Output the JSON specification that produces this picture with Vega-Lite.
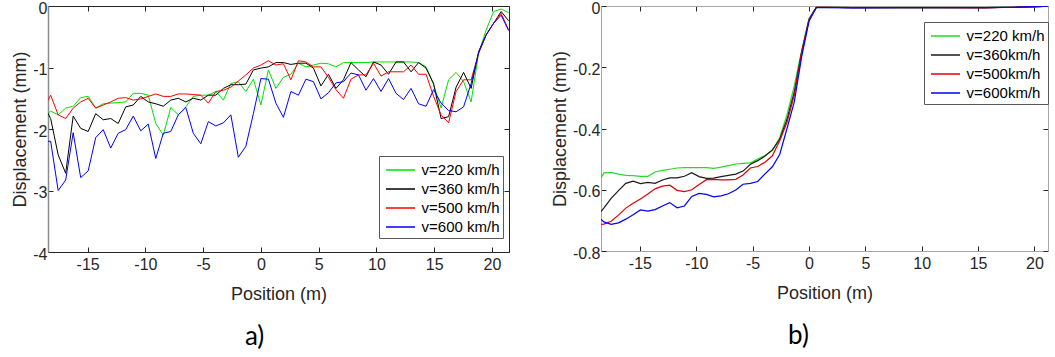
{
  "$schema": "https://vega.github.io/schema/vega-lite/v6.json",
  "padding": {"left": 11, "top": 0, "right": 0, "bottom": 0},
  "bounds": "flush",
  "spacing": 92,
  "config": {
    "locale": {"number": {"decimal": ".", "thousands": ",", "grouping": [3], "currency": ["$", ""], "minus": "-"}},
    "font": "Liberation Sans",
    "view": {"stroke": null},
    "axis": {"grid": false, "labelFontSize": 16, "labelColor": "#262626", "titleFontSize": 18, "titleFontWeight": "normal", "titleColor": "#262626", "tickSize": -5, "tickColor": "#262626", "labelFont": "Liberation Sans", "titleFont": "Liberation Sans"}
  },
  "resolve": {"scale": {"color": "independent"}, "legend": {"color": "independent"}},
  "hconcat": [
    {
      "width": 461,
      "height": 246,
      "data": {"values": [
        {"x": -18.85, "v220": -1.82, "v360": -1.6, "v500": -1.675, "v600": -2.2},
        {"x": -18.2, "v220": -1.71, "v360": -1.83, "v500": -1.45, "v600": -2.2},
        {"x": -17.55, "v220": -1.77, "v360": -2.42, "v500": -1.77, "v600": -3.0},
        {"x": -16.9, "v220": -1.66, "v360": -2.72, "v500": -1.83, "v600": -2.83},
        {"x": -16.25, "v220": -1.63, "v360": -1.79, "v500": -1.66, "v600": -2.06},
        {"x": -15.6, "v220": -1.49, "v360": -1.99, "v500": -1.56, "v600": -2.79},
        {"x": -14.95, "v220": -1.47, "v360": -2.04, "v500": -1.5, "v600": -2.68},
        {"x": -14.3, "v220": -1.66, "v360": -1.75, "v500": -1.66, "v600": -2.14},
        {"x": -13.65, "v220": -1.59, "v360": -1.85, "v500": -1.61, "v600": -2.01},
        {"x": -13.0, "v220": -1.58, "v360": -1.83, "v500": -1.56, "v600": -2.31},
        {"x": -12.35, "v220": -1.57, "v360": -1.91, "v500": -1.5, "v600": -2.07},
        {"x": -11.7, "v220": -1.56, "v360": -1.64, "v500": -1.49, "v600": -2.01},
        {"x": -11.05, "v220": -1.42, "v360": -1.61, "v500": -1.53, "v600": -1.79},
        {"x": -10.4, "v220": -1.42, "v360": -1.47, "v500": -1.51, "v600": -2.03},
        {"x": -9.75, "v220": -1.45, "v360": -1.56, "v500": -1.47, "v600": -1.92},
        {"x": -9.1, "v220": -1.91, "v360": -1.59, "v500": -1.43, "v600": -2.48},
        {"x": -8.45, "v220": -2.1, "v360": -1.63, "v500": -1.47, "v600": -2.07},
        {"x": -7.8, "v220": -1.65, "v360": -1.53, "v500": -1.47, "v600": -2.04},
        {"x": -7.15, "v220": -1.77, "v360": -1.5, "v500": -1.43, "v600": -1.77},
        {"x": -6.5, "v220": -1.64, "v360": -1.56, "v500": -1.43, "v600": -1.65},
        {"x": -5.85, "v220": -1.47, "v360": -1.5, "v500": -1.44, "v600": -2.07},
        {"x": -5.2, "v220": -1.45, "v360": -1.53, "v500": -1.45, "v600": -2.24},
        {"x": -4.55, "v220": -1.45, "v360": -1.45, "v500": -1.58, "v600": -1.88},
        {"x": -3.9, "v220": -1.39, "v360": -1.45, "v500": -1.39, "v600": -1.95},
        {"x": -3.25, "v220": -1.53, "v360": -1.34, "v500": -1.37, "v600": -1.9},
        {"x": -2.6, "v220": -1.26, "v360": -1.28, "v500": -1.32, "v600": -1.77},
        {"x": -1.95, "v220": -1.23, "v360": -1.28, "v500": -1.22, "v600": -2.46},
        {"x": -1.3, "v220": -1.39, "v360": -1.27, "v500": -1.12, "v600": -2.28},
        {"x": -0.65, "v220": -1.19, "v360": -1.04, "v500": -1.01, "v600": -1.75},
        {"x": 0.0, "v220": -1.61, "v360": -1.01, "v500": -0.96, "v600": -1.18},
        {"x": 0.65, "v220": -1.04, "v360": -0.99, "v500": -0.89, "v600": -1.19},
        {"x": 1.3, "v220": -1.34, "v360": -0.92, "v500": -0.96, "v600": -1.58},
        {"x": 1.95, "v220": -1.16, "v360": -0.92, "v500": -0.94, "v600": -1.81},
        {"x": 2.6, "v220": -1.11, "v360": -0.95, "v500": -1.2, "v600": -1.39},
        {"x": 3.25, "v220": -0.93, "v360": -0.93, "v500": -0.89, "v600": -1.45},
        {"x": 3.9, "v220": -0.99, "v360": -0.93, "v500": -0.91, "v600": -1.19},
        {"x": 4.55, "v220": -0.96, "v360": -1.01, "v500": -0.99, "v600": -1.23},
        {"x": 5.2, "v220": -0.93, "v360": -1.3, "v500": -0.99, "v600": -1.51},
        {"x": 5.85, "v220": -0.94, "v360": -1.11, "v500": -1.16, "v600": -1.41},
        {"x": 6.5, "v220": -0.99, "v360": -1.34, "v500": -1.36, "v600": -1.25},
        {"x": 7.15, "v220": -0.92, "v360": -1.2, "v500": -1.5, "v600": -1.23},
        {"x": 7.8, "v220": -0.92, "v360": -0.92, "v500": -1.19, "v600": -1.09},
        {"x": 8.45, "v220": -0.92, "v360": -1.04, "v500": -1.12, "v600": -1.12},
        {"x": 9.1, "v220": -0.92, "v360": -1.15, "v500": -1.12, "v600": -1.37},
        {"x": 9.75, "v220": -0.91, "v360": -0.91, "v500": -0.93, "v600": -1.18},
        {"x": 10.4, "v220": -0.91, "v360": -0.96, "v500": -1.14, "v600": -1.39},
        {"x": 11.05, "v220": -0.91, "v360": -1.11, "v500": -1.07, "v600": -1.18},
        {"x": 11.7, "v220": -0.91, "v360": -0.91, "v500": -1.07, "v600": -1.42},
        {"x": 12.35, "v220": -0.91, "v360": -0.91, "v500": -1.07, "v600": -1.52},
        {"x": 13.0, "v220": -0.91, "v360": -1.07, "v500": -0.96, "v600": -1.34},
        {"x": 13.65, "v220": -0.92, "v360": -0.92, "v500": -1.11, "v600": -1.59},
        {"x": 14.3, "v220": -0.99, "v360": -1.01, "v500": -1.11, "v600": -1.63},
        {"x": 14.95, "v220": -1.28, "v360": -1.26, "v500": -1.47, "v600": -1.36},
        {"x": 15.6, "v220": -1.66, "v360": -1.83, "v500": -1.77, "v600": -1.58},
        {"x": 16.25, "v220": -1.2, "v360": -1.8, "v500": -1.9, "v600": -1.7},
        {"x": 16.9, "v220": -1.08, "v360": -1.32, "v500": -1.39, "v600": -1.72},
        {"x": 17.55, "v220": -1.23, "v360": -1.08, "v500": -1.2, "v600": -1.64},
        {"x": 18.2, "v220": -1.56, "v360": -1.34, "v500": -1.2, "v600": -1.26},
        {"x": 18.85, "v220": -0.77, "v360": -0.74, "v500": -0.77, "v600": -0.76},
        {"x": 19.5, "v220": -0.39, "v360": -0.47, "v500": -0.47, "v600": -0.47},
        {"x": 20.15, "v220": -0.09, "v360": -0.28, "v500": -0.28, "v600": -0.28},
        {"x": 20.8, "v220": -0.05, "v360": -0.09, "v500": -0.12, "v600": -0.15},
        {"x": 21.45, "v220": -0.11, "v360": -0.24, "v500": -0.39, "v600": -0.4}
      ]},
      "transform": [{"fold": ["v220", "v360", "v500", "v600"], "as": ["s", "y"]}],
      "title": {"text": "a)", "orient": "bottom", "anchor": "middle", "frame": "bounds", "font": "Lato", "fontSize": 26, "fontWeight": "normal", "color": "#000000", "offset": 21, "dx": -7},
      "layer": [
        {
          "mark": {"type": "line", "strokeWidth": 1, "clip": true},
          "encoding": {
            "x": {"field": "x", "type": "quantitative", "scale": {"domain": [-18.43, 21.48], "nice": false, "zero": false},
              "axis": {"orient": "bottom", "values": [-15, -10, -5, 0, 5, 10, 15, 20], "format": "~g", "title": "Position (m)", "domainColor": "#262626", "labelPadding": 9, "titlePadding": 13}},
            "y": {"field": "y", "type": "quantitative", "scale": {"domain": [-4, 0], "nice": false, "zero": false},
              "axis": {"orient": "left", "values": [-4, -3, -2, -1, 0], "format": "~g", "title": "Displacement (mm)", "domainColor": "#8c8c8c", "domainWidth": 1.5, "labelPadding": 6, "labelOffset": 2, "titlePadding": 3}},
            "color": {"field": "s", "type": "nominal",
              "scale": {"domain": ["v220", "v360", "v500", "v600"], "range": ["#00e000", "#000000", "#ff0000", "#0000ff"]},
              "legend": {"orient": "none", "legendX": 331, "legendY": 150, "title": null,
                "labelExpr": "'v=' + slice(datum.value, 1) + ' km/h'",
                "strokeColor": "#5a5a5a", "fillColor": "#ffffff", "padding": 3, "cornerRadius": 0,
                "symbolType": "M-0.7,0L2.2,0", "symbolSize": 400, "symbolStrokeWidth": 1.5,
                "labelFontSize": 15, "labelFont": "Liberation Sans", "labelColor": "#000000", "labelOffset": 17.6, "rowPadding": 0}}
          }
        },
        {
          "mark": {"type": "point", "opacity": 0},
          "encoding": {
            "x": {"field": "x", "type": "quantitative", "scale": {"domain": [-18.43, 21.48], "nice": false, "zero": false},
              "axis": {"orient": "top", "values": [-15, -10, -5, 0, 5, 10, 15, 20], "labels": false, "title": null, "domainColor": "#262626"}},
            "y": {"field": "y", "type": "quantitative", "scale": {"domain": [-4, 0], "nice": false, "zero": false},
              "axis": {"orient": "right", "values": [-4, -3, -2, -1, 0], "labels": false, "title": null, "domainColor": "#262626"}}
          }
        }
      ],
      "resolve": {"axis": {"x": "independent", "y": "independent"}}
    },
    {
      "width": 447,
      "height": 245,
      "data": {"values": [
        {"x": -18.45, "v220": -0.562, "v360": -0.671, "v500": -0.713, "v600": -0.696},
        {"x": -18.2, "v220": -0.545, "v360": -0.66, "v500": -0.712, "v600": -0.705},
        {"x": -17.55, "v220": -0.543, "v360": -0.628, "v500": -0.703, "v600": -0.713},
        {"x": -16.9, "v220": -0.549, "v360": -0.603, "v500": -0.683, "v600": -0.708},
        {"x": -16.25, "v220": -0.553, "v360": -0.579, "v500": -0.66, "v600": -0.696},
        {"x": -15.6, "v220": -0.554, "v360": -0.572, "v500": -0.644, "v600": -0.682},
        {"x": -14.95, "v220": -0.556, "v360": -0.58, "v500": -0.63, "v600": -0.666},
        {"x": -14.3, "v220": -0.556, "v360": -0.576, "v500": -0.614, "v600": -0.67},
        {"x": -13.65, "v220": -0.542, "v360": -0.579, "v500": -0.597, "v600": -0.665},
        {"x": -13.0, "v220": -0.537, "v360": -0.568, "v500": -0.588, "v600": -0.653},
        {"x": -12.35, "v220": -0.533, "v360": -0.561, "v500": -0.585, "v600": -0.642},
        {"x": -11.7, "v220": -0.529, "v360": -0.561, "v500": -0.602, "v600": -0.659},
        {"x": -11.05, "v220": -0.528, "v360": -0.556, "v500": -0.606, "v600": -0.653},
        {"x": -10.4, "v220": -0.528, "v360": -0.544, "v500": -0.6, "v600": -0.622},
        {"x": -9.75, "v220": -0.528, "v360": -0.557, "v500": -0.583, "v600": -0.612},
        {"x": -9.1, "v220": -0.528, "v360": -0.563, "v500": -0.567, "v600": -0.615},
        {"x": -8.45, "v220": -0.53, "v360": -0.562, "v500": -0.566, "v600": -0.623},
        {"x": -7.8, "v220": -0.526, "v360": -0.557, "v500": -0.568, "v600": -0.62},
        {"x": -7.15, "v220": -0.521, "v360": -0.553, "v500": -0.568, "v600": -0.613},
        {"x": -6.5, "v220": -0.516, "v360": -0.549, "v500": -0.566, "v600": -0.601},
        {"x": -5.85, "v220": -0.514, "v360": -0.539, "v500": -0.552, "v600": -0.582},
        {"x": -5.2, "v220": -0.512, "v360": -0.517, "v500": -0.529, "v600": -0.579},
        {"x": -4.55, "v220": -0.5, "v360": -0.505, "v500": -0.524, "v600": -0.573},
        {"x": -3.9, "v220": -0.488, "v360": -0.49, "v500": -0.51, "v600": -0.548},
        {"x": -3.25, "v220": -0.472, "v360": -0.47, "v500": -0.489, "v600": -0.525},
        {"x": -2.6, "v220": -0.43, "v360": -0.435, "v500": -0.44, "v600": -0.485},
        {"x": -1.95, "v220": -0.355, "v360": -0.37, "v500": -0.38, "v600": -0.4},
        {"x": -1.3, "v220": -0.26, "v360": -0.28, "v500": -0.29, "v600": -0.312},
        {"x": -0.65, "v220": -0.145, "v360": -0.15, "v500": -0.152, "v600": -0.165},
        {"x": 0.0, "v220": -0.04, "v360": -0.045, "v500": -0.046, "v600": -0.05},
        {"x": 0.65, "v220": -0.004, "v360": -0.004, "v500": -0.004, "v600": -0.005},
        {"x": 1.3, "v220": -0.004, "v360": -0.004, "v500": -0.004, "v600": -0.005},
        {"x": 3.9, "v220": -0.005, "v360": -0.005, "v500": -0.005, "v600": -0.006},
        {"x": 7.8, "v220": -0.005, "v360": -0.005, "v500": -0.005, "v600": -0.005},
        {"x": 11.7, "v220": -0.005, "v360": -0.005, "v500": -0.005, "v600": -0.005},
        {"x": 15.6, "v220": -0.005, "v360": -0.005, "v500": -0.006, "v600": -0.005},
        {"x": 18.2, "v220": -0.004, "v360": -0.004, "v500": -0.004, "v600": -0.004},
        {"x": 19.5, "v220": -0.003, "v360": -0.003, "v500": -0.003, "v600": -0.003},
        {"x": 20.8, "v220": -0.001, "v360": -0.001, "v500": -0.001, "v600": -0.001},
        {"x": 21.45, "v220": 0.0, "v360": 0.0, "v500": 0.0, "v600": 0.0}
      ]},
      "transform": [{"fold": ["v220", "v360", "v500", "v600"], "as": ["s", "y"]}],
      "title": {"text": "b)", "orient": "bottom", "anchor": "middle", "frame": "bounds", "font": "Lato", "fontSize": 26, "fontWeight": "normal", "color": "#000000", "offset": 21, "dx": -4},
      "layer": [
        {
          "mark": {"type": "line", "strokeWidth": 1.2, "clip": true},
          "encoding": {
            "x": {"field": "x", "type": "quantitative", "scale": {"domain": [-18.45, 21.2], "nice": false, "zero": false},
              "axis": {"orient": "bottom", "values": [-15, -10, -5, 0, 5, 10, 15, 20], "format": "~g", "title": "Position (m)", "domainColor": "#a6a6a6", "labelPadding": 9, "titlePadding": 13}},
            "y": {"field": "y", "type": "quantitative", "scale": {"domain": [-0.8, 0], "nice": false, "zero": false},
              "axis": {"orient": "left", "values": [-0.8, -0.6, -0.4, -0.2, 0], "format": "~g", "title": "Displacement (mm)", "domainColor": "#a6a6a6", "labelPadding": 6, "labelOffset": 2, "titlePadding": 3}},
            "color": {"field": "s", "type": "nominal",
              "scale": {"domain": ["v220", "v360", "v500", "v600"], "range": ["#22dd22", "#1a1a1a", "#e00000", "#0000ff"]},
              "legend": {"orient": "none", "legendX": 323, "legendY": 16, "title": null,
                "labelExpr": "datum.value == 'v220' ? 'v=220 km/h' : 'v=' + slice(datum.value, 1) + 'km/h'",
                "strokeColor": "#5a5a5a", "fillColor": "#ffffff", "padding": 3, "cornerRadius": 0,
                "symbolType": "M-0.7,0L2.2,0", "symbolSize": 400, "symbolStrokeWidth": 1.5,
                "labelFontSize": 15, "labelFont": "Liberation Sans", "labelColor": "#000000", "labelOffset": 17.6, "rowPadding": 0}}
          }
        },
        {
          "mark": {"type": "point", "opacity": 0},
          "encoding": {
            "x": {"field": "x", "type": "quantitative", "scale": {"domain": [-18.45, 21.2], "nice": false, "zero": false},
              "axis": {"orient": "top", "values": [-15, -10, -5, 0, 5, 10, 15, 20], "labels": false, "title": null, "domainColor": "#a6a6a6"}},
            "y": {"field": "y", "type": "quantitative", "scale": {"domain": [-0.8, 0], "nice": false, "zero": false},
              "axis": {"orient": "right", "values": [-0.8, -0.6, -0.4, -0.2, 0], "labels": false, "title": null, "domainColor": "#a6a6a6"}}
          }
        }
      ],
      "resolve": {"axis": {"x": "independent", "y": "independent"}}
    }
  ]
}
